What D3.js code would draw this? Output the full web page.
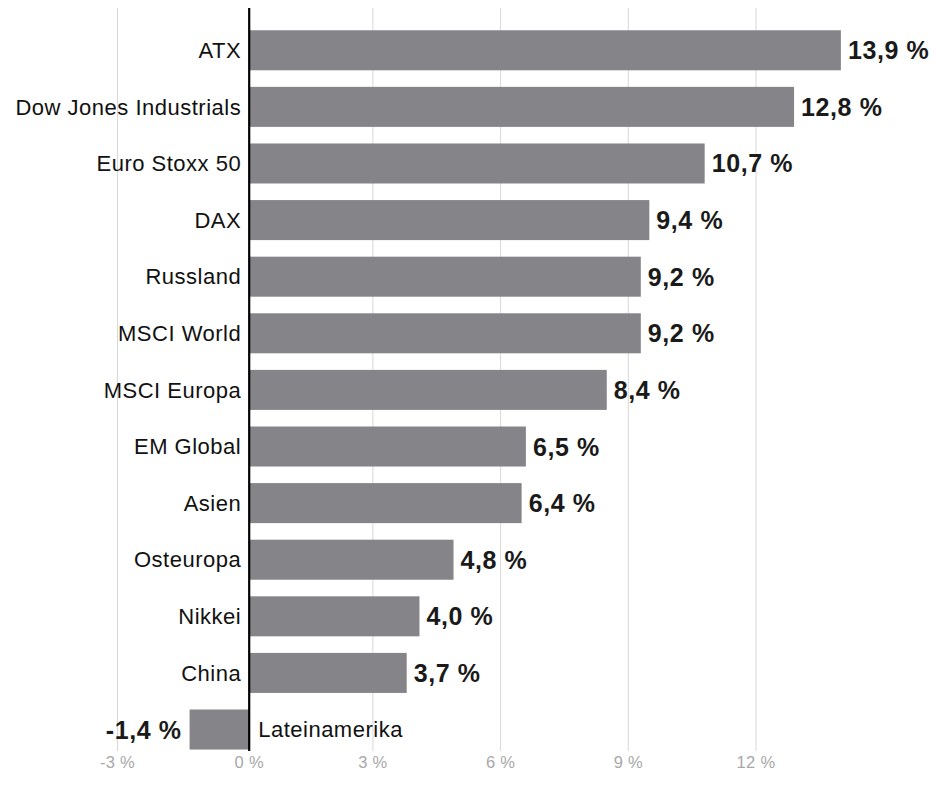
<!DOCTYPE html>
<html>
<head>
<meta charset="utf-8">
<script src="https://cdn.jsdelivr.net/npm/d3@7"></script>
<style>
  body { margin: 0; background: #fff; }
  text { font-family: "Liberation Sans", Arial, sans-serif; }
</style>
</head>
<body>
<div id="chart"></div>
<script>
// Performance der Indizes
const categories = ['ATX', 'Dow Jones Industrials', 'Euro Stoxx 50', 'DAX', 'Russland', 'MSCI World',
  'MSCI Europa', 'EM Global', 'Asien', 'Osteuropa', 'Nikkei', 'China', 'Lateinamerika'];
const values = [13.9, 12.8, 10.7, 9.4, 9.2, 9.2, 8.4, 6.5, 6.4, 4.8, 4.0, 3.7, -1.4];
const tickValues = [-3, 0, 3, 6, 9, 12];

const width = 936, height = 798;
const barColor = '#858489';
const axisGap = 4; // bars start a little right of the grid zero

const svg = d3.select('#chart').append('svg').attr('width', width).attr('height', height);

const x = d3.scaleLinear().domain([-3, 12]).range([117.5, 756]);
const y = d3.scaleBand().domain(categories).range([22, 22 + 56.6 * categories.length]).paddingInner(0.293).paddingOuter(0.146);

const gridTop = 8, gridBottom = 751;
const fmt = v => d3.format('.1f')(v).replace('.', ',').replace('\u2212', '-') + ' %';

// gridlines
svg.append('g').selectAll('line').data(tickValues.filter(t => t !== 0)).enter().append('line')
  .attr('x1', d => x(d)).attr('x2', d => x(d))
  .attr('y1', gridTop).attr('y2', gridBottom)
  .attr('stroke', '#d8d8d8').attr('stroke-width', 1);

// tick labels
svg.append('g').selectAll('text').data(tickValues).enter().append('text')
  .attr('x', d => d === 0 ? x(0) + axisGap : x(d))
  .attr('y', 768)
  .attr('text-anchor', 'middle')
  .attr('fill', '#a8a8a8')
  .style('font-size', '16.5px')
  .style('letter-spacing', '0.3px')
  .text(d => d + ' %');

const zeroX = x(0) + axisGap;

// bars
svg.append('g').selectAll('rect').data(values).enter().append('rect')
  .attr('x', d => d >= 0 ? zeroX : zeroX + (x(d) - x(0)))
  .attr('y', (d, i) => y(categories[i]))
  .attr('width', d => Math.abs(x(d) - x(0)))
  .attr('height', y.bandwidth())
  .attr('fill', barColor);

// category labels
svg.append('g').selectAll('text').data(categories).enter().append('text')
  .attr('x', (d, i) => values[i] >= 0 ? zeroX - 8 : zeroX + 9)
  .attr('y', d => y(d) + y.bandwidth() / 2)
  .attr('dy', '0.35em')
  .attr('text-anchor', (d, i) => values[i] >= 0 ? 'end' : 'start')
  .attr('fill', '#111')
  .style('font-size', '22px')
  .style('letter-spacing', '0.5px')
  .text(d => d);

// value labels
svg.append('g').selectAll('text').data(values).enter().append('text')
  .attr('x', d => d >= 0 ? zeroX + (x(d) - x(0)) + 7 : zeroX + (x(d) - x(0)) - 8)
  .attr('y', (d, i) => y(categories[i]) + y.bandwidth() / 2)
  .attr('dy', '0.36em')
  .attr('text-anchor', d => d >= 0 ? 'start' : 'end')
  .attr('fill', '#1a1a1a')
  .style('font-size', '25px')
  .style('font-weight', 'bold')
  .style('letter-spacing', '0.6px')
  .text(fmt);

// zero axis line
svg.append('line')
  .attr('x1', zeroX).attr('x2', zeroX)
  .attr('y1', gridTop).attr('y2', gridBottom)
  .attr('stroke', '#000').attr('stroke-width', 2.2);
</script>
</body>
</html>
